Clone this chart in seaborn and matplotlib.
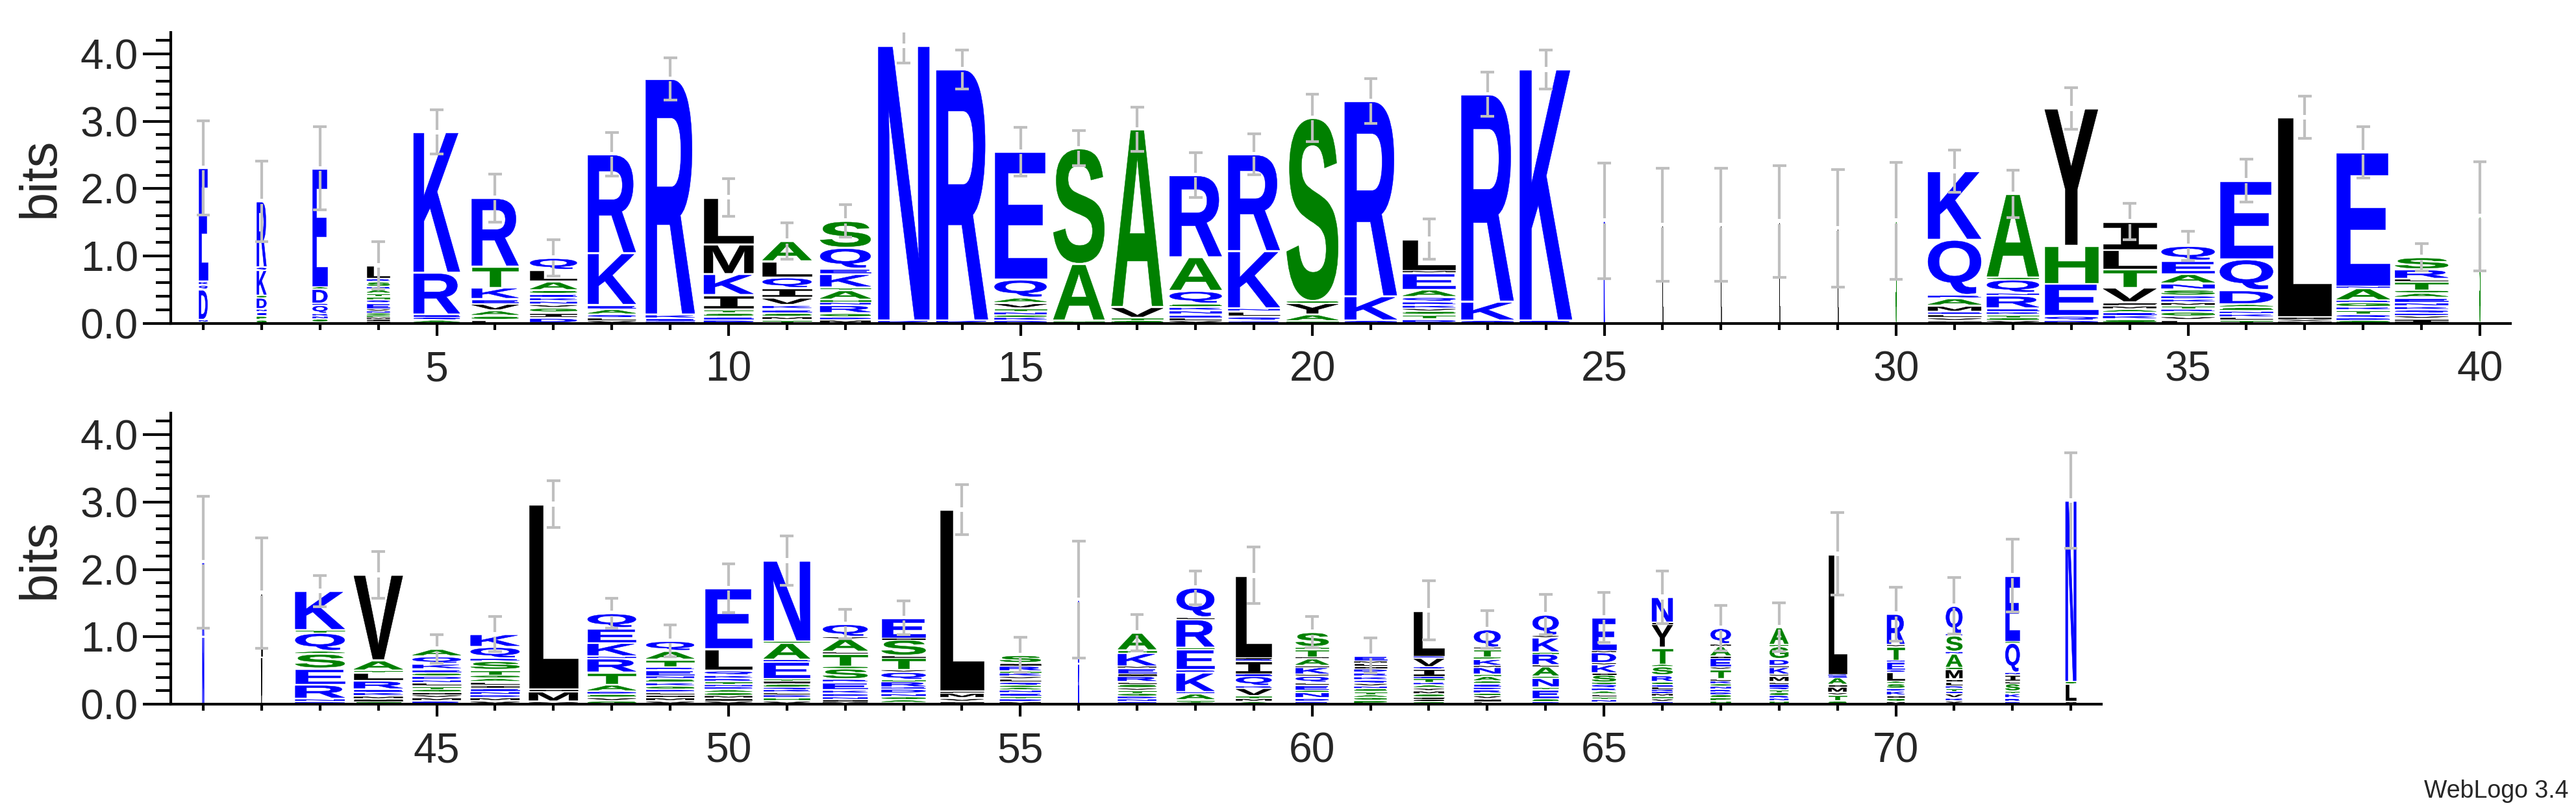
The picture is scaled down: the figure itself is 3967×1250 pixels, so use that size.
import numpy as np
import seaborn as sns
import matplotlib.pyplot as plt
from matplotlib.textpath import TextPath
from matplotlib.font_manager import FontProperties
from matplotlib.patches import PathPatch
from matplotlib.transforms import Affine2D
from matplotlib.ticker import MultipleLocator, FormatStrFormatter

# ---- data: letters of each stack (bottom -> top) and their heights in bits ----
positions = list(range(1, 74))

stack_letters = [
    "GNDQKE", "GPENDSKQR", "TSNKQRDAE", "IFMPGNVEQHTAKSRL", "AQERK",
    "LSAVEKTR", "DIGVNKESALQ", "VLQAEKR", "QEKR", "DESTIKML",
    "TMSEKVIQLA", "MDGRNHATKEQS", "KN", "KR", "DKSNTVAQE",
    "TAS", "STVA", "VLENKSQAR", "EQLNKR", "TAYGS",
    "QKR", "DTSVKRQAEML", "QKR", "RK", "K",
    "L", "L", "L", "L", "S",
    "IVLEMARQK", "VSTKERNQGA", "DQEHY", "SKEAMFVTLI", "LVGRTMKDSNAEQ",
    "TLKNSADQE", "MVIL", "SDQTKGRANE", "IVDQKNEAGTLRS", "S",
    "NK", "VL", "DNRESAQTK", "SIMKERLTAV", "RMVIGTLNDSEKQA",
    "VMDNEILAGTSRQK", "VMIL", "GVSDATRNKEQ", "VMILDGKSNERTAQ", "VIMSADNTRKQLE",
    "VHDLKQSITERAGN", "MINDKERSGTLAVQ", "MAGNDKRHQVTLSIE", "IVMFL", "MDTENAGQLVKHRIS",
    "KR", "QNDGTVSLRIEMKHA", "STANKDEHRLQ", "AMTVKQEIRFL", "RDNGELQVKIAMTHS",
    "PGATSNVQKRDILME", "GCFSMYAKTEIQVRL", "LIVGRDESAHNMKPTYQ", "DSETNGALRHKVQ", "HNTLARQGSIKVDME",
    "QVHMDKLEGRSATYIN", "HPSDRNGKLTVEIAMQ", "HNRSTQELMVKIDGPA", "STVMIAEKL", "MGIKDSALQENTVR",
    "YKVETRLIMGANSDQ", "DRKTSLINQAE", "ILSN",
]

stack_bits = [
    [0.02, 0.03, 0.45, 0.07, 0.05, 1.69],
    [0.05, 0.06, 0.06, 0.04, 0.17, 0.03, 0.38, 0.04, 0.98],
    [0.02, 0.04, 0.05, 0.03, 0.13, 0.02, 0.22, 0.03, 1.76],
    [0.03, 0.03, 0.03, 0.03, 0.03, 0.03, 0.03, 0.09, 0.05, 0.05, 0.04, 0.07, 0.03, 0.08, 0.04, 0.20],
    [0.05, 0.04, 0.04, 0.62, 2.09],
    [0.05, 0.06, 0.08, 0.10, 0.07, 0.17, 0.31, 1.02],
    [0.08, 0.08, 0.07, 0.05, 0.05, 0.05, 0.06, 0.05, 0.13, 0.17, 0.18],
    [0.04, 0.04, 0.05, 0.08, 0.06, 0.77, 1.47],
    [0.03, 0.04, 0.06, 3.50],
    [0.05, 0.05, 0.05, 0.06, 0.21, 0.31, 0.44, 0.70],
    [0.05, 0.05, 0.05, 0.06, 0.06, 0.11, 0.14, 0.16, 0.24, 0.30],
    [0.05, 0.04, 0.06, 0.12, 0.04, 0.04, 0.14, 0.04, 0.20, 0.08, 0.31, 0.40],
    [0.04, 4.08],
    [0.04, 3.73],
    [0.04, 0.05, 0.03, 0.05, 0.05, 0.08, 0.08, 0.27, 1.90],
    [0.04, 0.84, 1.72],
    [0.04, 0.04, 0.16, 2.64],
    [0.04, 0.04, 0.05, 0.06, 0.05, 0.05, 0.19, 0.50, 1.22],
    [0.04, 0.06, 0.08, 0.04, 0.85, 1.44],
    [0.03, 0.10, 0.17, 0.03, 2.72],
    [0.04, 0.36, 2.90],
    [0.06, 0.07, 0.05, 0.04, 0.05, 0.05, 0.07, 0.11, 0.25, 0.03, 0.47],
    [0.04, 0.28, 3.08],
    [0.04, 3.73],
    [1.52],
    [1.46],
    [1.46],
    [1.51],
    [1.41],
    [1.52],
    [0.04, 0.04, 0.06, 0.03, 0.09, 0.11, 0.05, 0.82, 1.02],
    [0.04, 0.04, 0.05, 0.04, 0.05, 0.19, 0.04, 0.20, 0.03, 1.24],
    [0.04, 0.07, 0.48, 0.56, 2.04],
    [0.06, 0.06, 0.04, 0.05, 0.05, 0.05, 0.22, 0.27, 0.29, 0.42],
    [0.05, 0.05, 0.07, 0.04, 0.05, 0.05, 0.05, 0.05, 0.09, 0.09, 0.14, 0.20, 0.22],
    [0.05, 0.04, 0.05, 0.04, 0.06, 0.04, 0.21, 0.46, 1.17],
    [0.03, 0.03, 0.03, 2.97],
    [0.04, 0.04, 0.05, 0.07, 0.04, 0.07, 0.03, 0.18, 0.03, 1.99],
    [0.07, 0.04, 0.04, 0.05, 0.05, 0.06, 0.07, 0.07, 0.04, 0.13, 0.04, 0.14, 0.18],
    [1.59],
    [1.00, 1.11],
    [0.70, 0.95],
    [0.04, 0.04, 0.21, 0.24, 0.22, 0.04, 0.27, 0.04, 0.58],
    [0.04, 0.04, 0.04, 0.06, 0.04, 0.13, 0.12, 0.03, 0.15, 1.27],
    [0.05, 0.05, 0.04, 0.04, 0.04, 0.05, 0.05, 0.04, 0.06, 0.04, 0.06, 0.08, 0.11, 0.11],
    [0.05, 0.05, 0.04, 0.05, 0.05, 0.04, 0.05, 0.06, 0.04, 0.08, 0.13, 0.04, 0.17, 0.19],
    [0.04, 0.15, 0.03, 2.75],
    [0.05, 0.05, 0.05, 0.04, 0.10, 0.18, 0.21, 0.03, 0.20, 0.22, 0.22],
    [0.05, 0.05, 0.04, 0.04, 0.04, 0.05, 0.05, 0.06, 0.04, 0.09, 0.04, 0.11, 0.13, 0.15],
    [0.05, 0.04, 0.04, 0.04, 0.05, 0.04, 0.03, 0.05, 0.04, 0.05, 0.07, 0.32, 0.90],
    [0.05, 0.05, 0.04, 0.04, 0.04, 0.03, 0.05, 0.05, 0.03, 0.25, 0.03, 0.25, 0.02, 1.20],
    [0.04, 0.03, 0.04, 0.05, 0.05, 0.12, 0.04, 0.16, 0.03, 0.19, 0.03, 0.19, 0.03, 0.19],
    [0.02, 0.05, 0.04, 0.05, 0.07, 0.02, 0.09, 0.02, 0.12, 0.03, 0.18, 0.03, 0.24, 0.02, 0.30],
    [0.04, 0.05, 0.08, 0.02, 2.70],
    [0.04, 0.04, 0.04, 0.05, 0.04, 0.04, 0.03, 0.05, 0.05, 0.03, 0.06, 0.02, 0.08, 0.04, 0.12],
    [0.60, 0.95],
    [0.04, 0.04, 0.04, 0.04, 0.05, 0.03, 0.06, 0.03, 0.09, 0.03, 0.09, 0.02, 0.20, 0.04, 0.26],
    [0.03, 0.03, 0.10, 0.02, 0.29, 0.04, 0.31, 0.02, 0.42, 0.03, 0.44],
    [0.04, 0.05, 0.03, 0.12, 0.03, 0.15, 0.03, 0.19, 0.03, 0.02, 1.22],
    [0.04, 0.05, 0.09, 0.02, 0.09, 0.03, 0.10, 0.02, 0.11, 0.02, 0.11, 0.02, 0.12, 0.03, 0.22],
    [0.06, 0.04, 0.04, 0.05, 0.04, 0.04, 0.04, 0.05, 0.05, 0.06, 0.06, 0.03, 0.05, 0.03, 0.08],
    [0.04, 0.03, 0.04, 0.04, 0.05, 0.04, 0.05, 0.03, 0.07, 0.02, 0.12, 0.02, 0.14, 0.02, 0.68],
    [0.04, 0.04, 0.05, 0.03, 0.06, 0.03, 0.06, 0.03, 0.08, 0.02, 0.11, 0.02, 0.10, 0.03, 0.12, 0.02, 0.27],
    [0.04, 0.04, 0.14, 0.03, 0.14, 0.02, 0.15, 0.02, 0.17, 0.02, 0.22, 0.03, 0.31],
    [0.03, 0.04, 0.04, 0.04, 0.05, 0.04, 0.06, 0.02, 0.12, 0.02, 0.13, 0.02, 0.16, 0.02, 0.50],
    [0.04, 0.04, 0.04, 0.04, 0.03, 0.03, 0.04, 0.03, 0.04, 0.10, 0.13, 0.03, 0.25, 0.35, 0.02, 0.38],
    [0.05, 0.05, 0.04, 0.04, 0.04, 0.05, 0.03, 0.05, 0.03, 0.14, 0.03, 0.14, 0.02, 0.15, 0.03, 0.24],
    [0.05, 0.04, 0.04, 0.04, 0.05, 0.03, 0.05, 0.03, 0.09, 0.02, 0.11, 0.02, 0.10, 0.19, 0.02, 0.26],
    [0.05, 0.09, 0.03, 0.09, 0.03, 0.11, 0.02, 0.02, 1.79],
    [0.04, 0.05, 0.04, 0.07, 0.03, 0.08, 0.03, 0.14, 0.02, 0.13, 0.02, 0.21, 0.02, 0.46],
    [0.05, 0.04, 0.07, 0.03, 0.05, 0.03, 0.07, 0.03, 0.15, 0.02, 0.21, 0.03, 0.24, 0.02, 0.42],
    [0.04, 0.05, 0.07, 0.03, 0.12, 0.03, 0.10, 0.03, 0.44, 0.02, 0.98],
    [0.04, 0.27, 0.02, 2.69],
]

# fraction of sequences without a gap (WebLogo scales stack widths by it)
occupancy = [
    0.16, 0.18, 0.28, 0.43, 0.87, 0.88, 0.88, 0.90, 0.92, 0.93,
    0.92, 0.95, 0.96, 0.97, 0.98, 0.96, 0.97, 0.98, 0.97, 0.97,
    0.98, 0.99, 0.98, 0.98, 0.015, 0.012, 0.012, 0.012, 0.012, 0.015,
    1.0, 0.98, 1.0, 1.0, 1.0, 1.0, 1.0, 1.0, 1.0, 0.02,
    0.03, 0.02, 0.93, 0.92, 0.91, 0.92, 0.92, 0.91, 0.90, 0.89,
    0.87, 0.84, 0.83, 0.81, 0.77, 0.015, 0.72, 0.71, 0.67, 0.62,
    0.61, 0.57, 0.50, 0.49, 0.45, 0.39, 0.38, 0.35, 0.34, 0.33,
    0.31, 0.27, 0.20,
]

# half-length of the error bar at each stack top (bits)
error_bits = [
    0.70, 0.60, 0.62, 0.35, 0.33, 0.36, 0.27, 0.32, 0.31, 0.28,
    0.27, 0.24, 0.25, 0.29, 0.36, 0.26, 0.33, 0.33, 0.30, 0.35,
    0.33, 0.30, 0.33, 0.29, 0.86, 0.84, 0.84, 0.83, 0.87, 0.87,
    0.31, 0.35, 0.31, 0.27, 0.22, 0.32, 0.31, 0.38, 0.20, 0.81,
    0.98, 0.82, 0.23, 0.35, 0.21, 0.26, 0.35, 0.22, 0.24, 0.36,
    0.37, 0.22, 0.25, 0.37, 0.26, 0.87, 0.27, 0.25, 0.42, 0.23,
    0.26, 0.44, 0.28, 0.30, 0.37, 0.39, 0.34, 0.36, 0.61, 0.40,
    0.42, 0.54, 0.71,
]

# hydrophobicity colour scheme
color_groups = {"RKDENQ": "#0000FF", "SGHTAP": "#008000", "YVMCLFIW": "#000000"}
letter_color = {ch: c for group, c in color_groups.items() for ch in group}

sns.set_theme(style="ticks")
plt.rcParams["font.family"] = ["Liberation Sans", "DejaVu Sans"]

glyph_font = FontProperties(family="Liberation Sans", weight="bold")
serif_i_font = FontProperties(family="DejaVu Sans Mono", weight="bold")
glyphs = {ch: TextPath((0, 0), ch, size=1, prop=glyph_font) for ch in letter_color}
glyphs["I"] = TextPath((0, 0), "I", size=1, prop=serif_i_font)

fig = plt.figure(figsize=(3967 / 300, 1250 / 300), dpi=300)
ax_top = fig.add_axes([0.0663, 0.602, 0.9082, 0.358])
ax_bot = fig.add_axes([0.0663, 0.1328, 0.7494, 0.3584])

FULL_WIDTH = 0.91
CAP = 0.115
GRAY = "#BFBFBF"


def draw_letter(ax, ch, xc, y0, w, h):
    path = glyphs[ch]
    ext = path.get_extents()
    pad = min(0.035, 0.6 * h)
    tr = (Affine2D().translate(-ext.x0, -ext.y0)
          .scale(w / ext.width, (h - pad) / ext.height)
          .translate(xc - w / 2, y0 + pad / 2))
    col = letter_color[ch]
    ax.add_patch(PathPatch(tr.transform_path(path), fc=col, ec=col, lw=0.12, zorder=2))


def draw_panel(ax, lo, hi):
    for i in range(lo - 1, hi):
        x = positions[i]
        w = FULL_WIDTH * occupancy[i]
        y = 0.0
        for ch, h in zip(stack_letters[i], stack_bits[i]):
            draw_letter(ax, ch, x, y, w, h)
            y += h
        e = error_bits[i]
        gap = 0.035
        ax.vlines(x, y - e, y - gap, color=GRAY, lw=1.0, zorder=3)
        ax.vlines(x, y + gap, y + e, color=GRAY, lw=1.0, zorder=3)
        ax.hlines([y - e, y + e], x - CAP, x + CAP, color=GRAY, lw=1.0, zorder=3)

    ax.set_xlim(lo - 0.556, hi + 0.52)
    ax.set_ylim(0, 4.32)
    ax.yaxis.set_major_locator(MultipleLocator(1))
    ax.yaxis.set_minor_locator(MultipleLocator(0.2))
    ax.yaxis.set_major_formatter(FormatStrFormatter("%.1f"))
    ax.xaxis.set_major_locator(MultipleLocator(5))
    ax.xaxis.set_minor_locator(MultipleLocator(1))
    ax.tick_params(axis="y", which="major", length=10.3, width=1.0, labelsize=15.4, pad=1.7, color="black")
    ax.tick_params(axis="y", which="minor", length=5.5, width=1.0, color="black")
    ax.tick_params(axis="x", which="major", length=4.6, width=1.0, labelsize=15.4, pad=5.5, color="black")
    ax.tick_params(axis="x", which="minor", length=2.4, width=1.0, color="black")
    for s in ("left", "bottom"):
        ax.spines[s].set_linewidth(1.0)
        ax.spines[s].set_color("black")
    ax.set_ylabel("bits", fontsize=19)
    ax.set_facecolor("white")


draw_panel(ax_top, 1, 40)
draw_panel(ax_bot, 41, 73)
ax_top.yaxis.set_label_coords(-0.0452, 0.5)
ax_bot.yaxis.set_label_coords(-0.0548, 0.5)
sns.despine(fig=fig)

fig.text(0.997, 0.018, "WebLogo 3.4", ha="right", va="baseline", fontsize=9)

fig.savefig("out.png", dpi=300, facecolor="white")
